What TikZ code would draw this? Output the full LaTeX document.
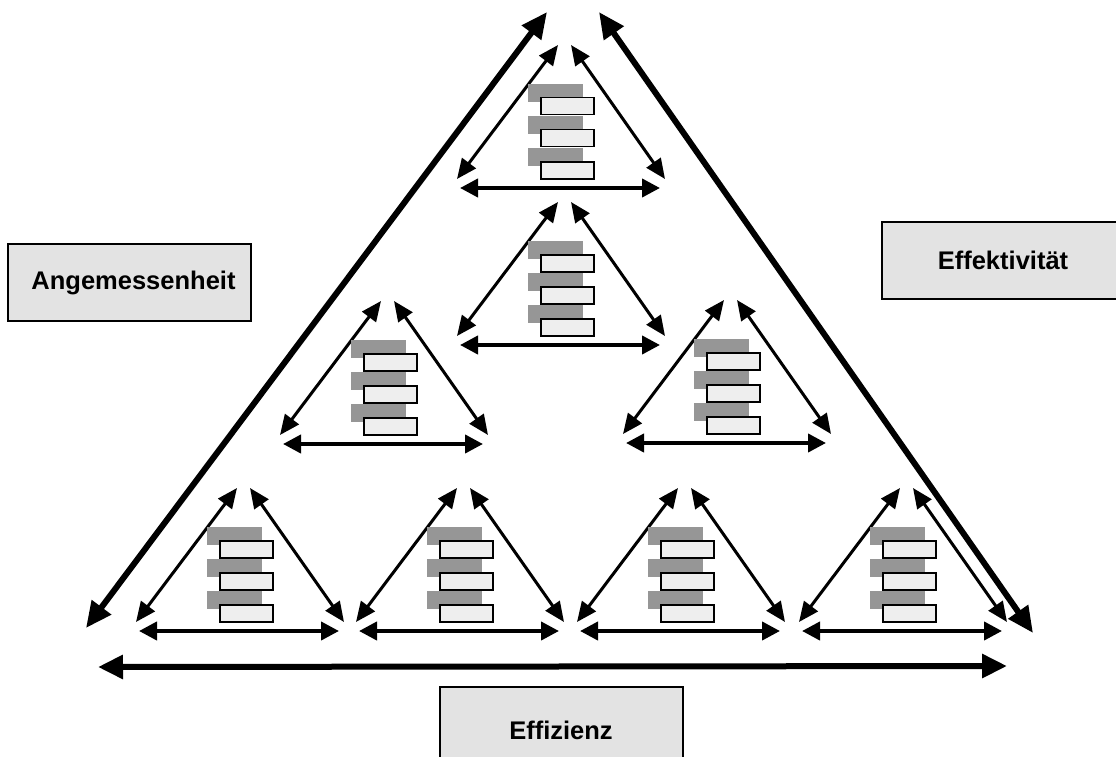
\documentclass[tikz,border=0pt]{standalone}
\usepackage{fontspec}
\setmainfont{Liberation Sans}
\usetikzlibrary{arrows.meta}
\definecolor{labelfill}{HTML}{E3E3E3}
\definecolor{bargray}{HTML}{969696}
\definecolor{barwhite}{HTML}{EEEEEE}
\tikzset{
 bigarrow/.style={line width=6pt, {Triangle[length=26pt,width=23pt]}-{Triangle[length=26pt,width=23pt]}},
 smallarrow/.style={line width=3pt, {Triangle[length=20pt,width=17pt]}-{Triangle[length=20pt,width=17pt]}},
 basearrow/.style={line width=4pt, {Triangle[length=18pt,width=18pt]}-{Triangle[length=18pt,width=18pt]}},
 labelbox/.style={draw, line width=2pt, fill=labelfill, minimum width=243pt, minimum height=77pt, inner sep=0pt, font=\bfseries\fontsize{25.5}{30}\selectfont},
 grayblock/.style={fill=bargray, minimum width=55pt, minimum height=18pt, inner sep=0pt, anchor=north west},
 whiteblock/.style={draw, line width=1.5pt, fill=barwhite, minimum width=53pt, minimum height=17pt, inner sep=0pt, anchor=north west},
}
\newcommand\mytri[3]{%
 \coordinate (#1-al) at (#2-3,#3);
 \coordinate (#1-ar) at (#2+10,#3);
 \coordinate (#1-bl) at (#2-104,#3+134);
 \coordinate (#1-br) at (#2+104,#3+134);
 \coordinate (#1-hl) at (#2-101,#3+143);
 \coordinate (#1-hr) at (#2+99,#3+143);
 \draw[smallarrow] (#1-al) -- (#1-bl);
 \draw[smallarrow] (#1-ar) -- (#1-br);
 \draw[basearrow] (#1-hl) -- (#1-hr);
 \foreach \k in {0,1,2} {
   \node[grayblock] (#1-g\k) at (#2-33,#3+39+32*\k) {};
   \node[whiteblock] (#1-w\k) at (#2-21,#3+52+32*\k) {};
 }
}
\begin{document}
\begin{tikzpicture}[x=1pt,y=-1pt]
\useasboundingbox (0,0) rectangle (1116,757);
% outer triangle
\coordinate (Ltop) at (547,12);
\coordinate (Lbot) at (86,628);
\coordinate (Rtop) at (599,12);
\coordinate (Rbot) at (1033,633);
\coordinate (Bl) at (98,667);
\coordinate (Br) at (1007,666);
\draw[bigarrow] (Ltop) -- (Lbot);
\draw[bigarrow] (Rtop) -- (Rbot);
\draw[line width=6pt, {Triangle[length=25pt,width=23pt]}-{Triangle[length=25pt,width=23pt]}] (Bl) -- (Br);
% small triangles
\mytri{t1}{561}{45}
\mytri{t2}{561}{202}
\mytri{t3}{384}{301}
\mytri{t4}{727}{300}
\mytri{t5}{240}{488}
\mytri{t6}{460}{488}
\mytri{t7}{681}{488}
\mytri{t8}{903}{488}
% labels
\node[labelbox] (ang) at (129.5,282.5) {\hspace*{8pt}Angemessenheit};
\node[labelbox] (eff) at (1003,260) {Effektivität};
\node[labelbox, minimum height=86pt] (effz) at (561,730) {Effizienz};
\end{tikzpicture}
\end{document}
